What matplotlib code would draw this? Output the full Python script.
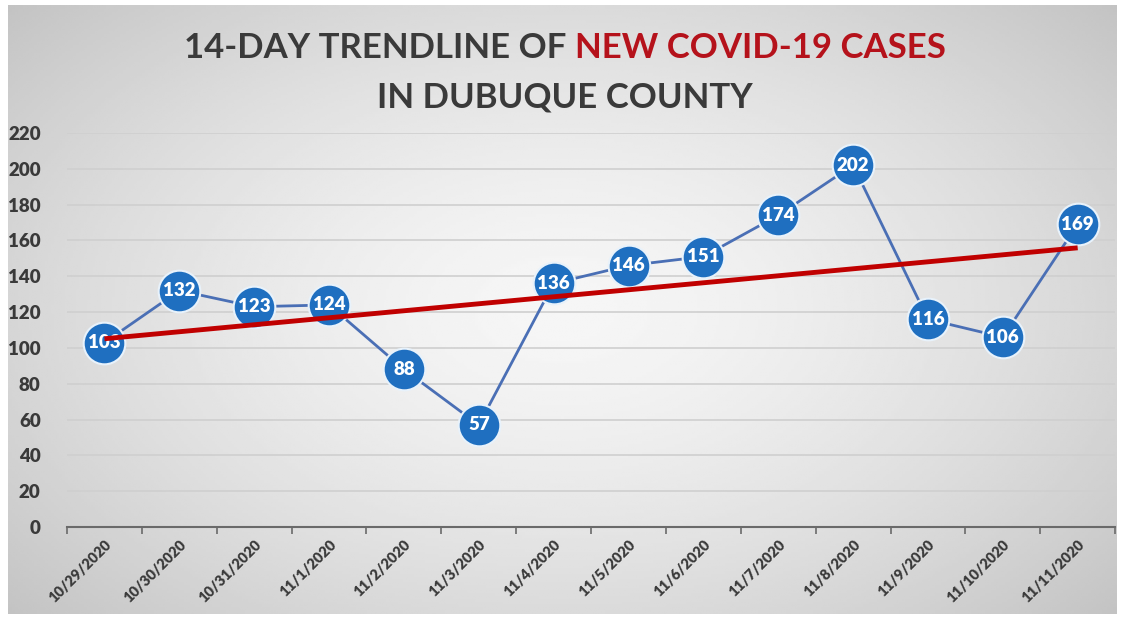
import numpy as np
import matplotlib
matplotlib.use("Agg")
import matplotlib.pyplot as plt

dates = ["10/29/2020", "10/30/2020", "10/31/2020", "11/1/2020", "11/2/2020",
         "11/3/2020", "11/4/2020", "11/5/2020", "11/6/2020", "11/7/2020",
         "11/8/2020", "11/9/2020", "11/10/2020", "11/11/2020"]
cases = [103, 132, 123, 124, 88, 57, 136, 146, 151, 174, 202, 116, 106, 169]
yticks = list(range(0, 221, 20))

FONT = "Lato"
DARK = "#3a3a3a"

fig = plt.figure(figsize=(11.25, 6.2), dpi=100)
fig.patch.set_facecolor("white")

# gray radial background
bg = fig.add_axes([0.007, 0.01, 0.985, 0.982])
gx, gy = np.meshgrid(np.linspace(-1, 1, 400), np.linspace(-1, 1, 220))
r = np.sqrt(gx ** 2 + (gy * 0.9) ** 2)
shade = 0.965 - 0.2 * np.clip(r / 1.35, 0, 1) ** 1.5
bg.imshow(shade, cmap="gray", vmin=0, vmax=1, aspect="auto", extent=[0, 1, 0, 1])
bg.axis("off")

ax = fig.add_axes([0.0596, 0.15, 0.9316, 0.6355])
ax.patch.set_alpha(0)
x = np.arange(len(cases))

ax.plot(x, cases, color="#4a6fb5", lw=2, zorder=2)
ax.plot(x, cases, "o", ms=30, mfc="#1f6fc0", mec="#e8f2fb", mew=1.5, zorder=3)
for xi, v in zip(x, cases):
    ax.text(xi, v, str(v), ha="center", va="center", color="white",
            fontsize=13.5, fontweight="heavy", family=FONT, zorder=4)

k, b = np.polyfit(x, cases, 1)
ax.plot([x[0], x[-1]], [k * x[0] + b, k * x[-1] + b], color="#c00000",
        lw=3.5, solid_capstyle="butt", zorder=5)

ax.set_xlim(-0.5, len(cases) - 0.5)
ax.set_ylim(0, 220)
ax.set_yticks(yticks)
ax.yaxis.grid(True, color="#cfcfcf", lw=1.2)
ax.set_axisbelow(True)
for s in ["top", "right", "left"]:
    ax.spines[s].set_visible(False)
ax.spines["bottom"].set_color("#6a6a6a")
ax.spines["bottom"].set_linewidth(1.5)
ax.tick_params(axis="y", length=0, pad=19, labelsize=13.5, labelcolor=DARK)
for t in ax.get_yticklabels():
    t.set_fontweight("heavy")
    t.set_family(FONT)

ax.set_xticks(np.arange(-0.5, len(cases), 1), minor=False)
ax.set_xticklabels([])
ax.tick_params(axis="x", length=5, color="#6a6a6a", width=1.2)
ax.set_xticks(x, minor=True)
ax.set_xticklabels(dates, minor=True, rotation=45, ha="right",
                   rotation_mode="anchor", fontsize=10.5, fontweight="heavy",
                   color=DARK, family=FONT)
ax.tick_params(axis="x", which="minor", length=0, pad=8)

# title, two lines, part of first line in red
tsize = 25
parts = [("14-DAY TRENDLINE OF ", DARK), ("NEW COVID-19 CASES", "#b5121b")]
fig.canvas.draw()
rend = fig.canvas.get_renderer()
texts = [fig.text(0, 0.922, p, color=c, fontsize=tsize, fontweight="bold",
                  family=FONT, va="center") for p, c in parts]
widths = [t.get_window_extent(rend).width / fig.bbox.width for t in texts]
start = 0.502 - sum(widths) / 2
for t, w in zip(texts, widths):
    t.set_x(start)
    start += w
fig.text(0.502, 0.843, "IN DUBUQUE COUNTY", color=DARK, fontsize=tsize,
         fontweight="bold", family=FONT, ha="center", va="center")

fig.savefig("out.png", dpi=100)
